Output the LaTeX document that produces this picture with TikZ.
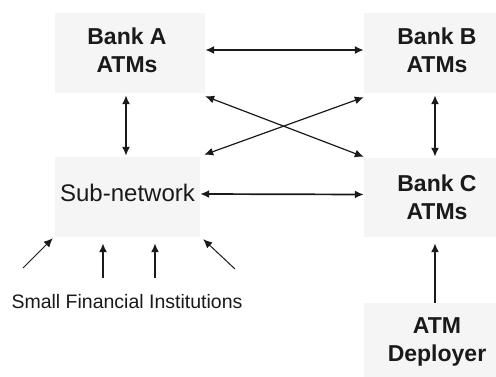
\documentclass[tikz,border=0pt]{standalone}
\usepackage{fontspec}
\setmainfont{Liberation Sans}
\usetikzlibrary{arrows.meta}
\definecolor{boxfill}{HTML}{F5F5F5}
\definecolor{ink}{HTML}{1A1A1A}
\begin{document}
\begin{tikzpicture}[x=1pt,y=-1pt,
  bankbox/.style={fill=boxfill, draw=none, inner sep=0pt, align=center, text=ink,
    font=\fontsize{23}{28}\selectfont\bfseries},
  subbox/.style={fill=boxfill, draw=none, inner sep=0pt, align=center, text=ink,
    font=\fontsize{24}{28}\selectfont},
  lbl/.style={text=ink, inner sep=0pt, font=\fontsize{19.5}{22}\selectfont},
  link/.style={draw=ink, line width=1.7pt, {Latex[length=9pt,width=8pt]}-{Latex[length=9pt,width=8pt]}},
  xlink/.style={draw=ink, line width=1.2pt, {Latex[length=9pt,width=8pt]}-{Latex[length=9pt,width=8pt]}},
  feed/.style={draw=ink, line width=1.7pt, -{Latex[length=9pt,width=8pt]}},
  thinfeed/.style={draw=ink, line width=1pt, -{Latex[length=9pt,width=8pt]}}
]
\useasboundingbox (0,0) rectangle (496,377);
\fill[white] (0,0) rectangle (496,377);

\node[bankbox, minimum width=150pt, minimum height=80pt, text depth=6pt] (A) at (130,53) {Bank A\hspace*{6pt}\\ATMs\hspace*{6pt}};
\node[bankbox, minimum width=146pt, minimum height=80pt, text depth=6pt] (B) at (437,53) {Bank B\\ATMs};
\node[subbox, minimum width=145pt, minimum height=80pt, text depth=8pt] (S) at (127.5,197) {Sub-network};
\node[bankbox, minimum width=146pt, minimum height=79pt] (C) at (437,197.5) {Bank C\\ATMs};
\node[bankbox, minimum width=146pt, minimum height=78pt] (D) at (437,342) {ATM\\Deployer};
\node[lbl] (F) at (127,302) {Small Financial Institutions};

% horizontal links
\draw[link] ([yshift=3pt]A.east) -- ([yshift=3pt]B.west);
\draw[link] ([yshift=3pt]S.east) -- ([yshift=3pt]C.west);
% cross links
\draw[xlink] ([yshift=-3pt]A.south east) -- ([yshift=1pt]C.north west);
\draw[xlink] ([xshift=4pt,yshift=2pt]S.north east) -- ([yshift=-4pt]B.south west);
% vertical links
\draw[link] ([xshift=-4pt,yshift=-2pt]A.south) -- ([xshift=-1.5pt,yshift=1pt]S.north);
\draw[link] ([xshift=-2pt,yshift=-2pt]B.south) -- ([xshift=-2pt,yshift=1pt]C.north);
\draw[feed] ([xshift=-2pt]D.north) -- ([xshift=-2pt,yshift=-6pt]C.south);

% small financial institutions
\coordinate (s1) at (23,268);
\coordinate (s2) at (103,278);
\coordinate (s3) at (155,278);
\coordinate (s4) at (235,269);
\draw[thinfeed] (s1) -- ([xshift=-2pt,yshift=-1pt]S.south west);
\draw[feed] (s2) -- ([yshift=-6pt]s2 |- S.south);
\draw[feed] (s3) -- ([yshift=-6pt]s3 |- S.south);
\draw[thinfeed] (s4) -- ([xshift=3pt,yshift=-2pt]S.south east);
\end{tikzpicture}
\end{document}
